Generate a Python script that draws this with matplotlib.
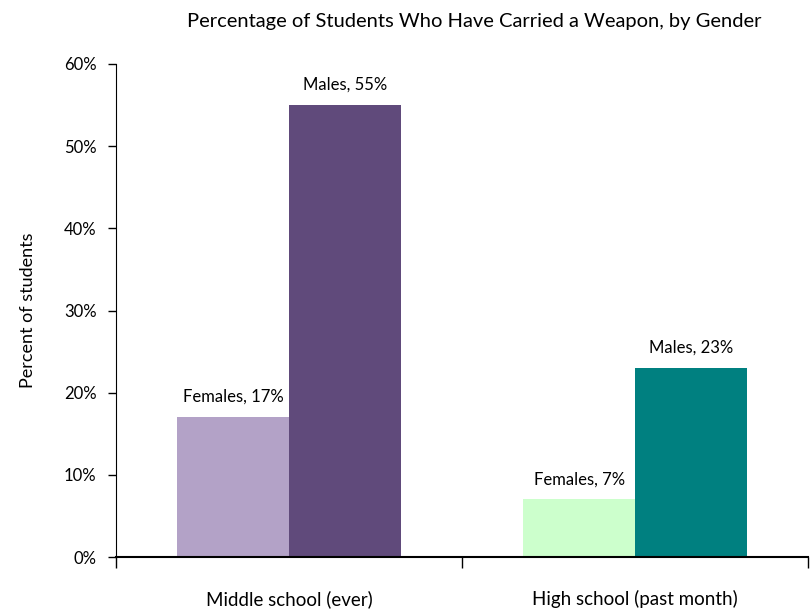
import matplotlib.pyplot as plt
import numpy as np

categories = ["Middle school (ever)", "High school (past month)"]
females = [17, 7]
males = [55, 23]
female_colors = ["#B3A2C7", "#CCFFCC"]
male_colors = ["#604A7B", "#008080"]

plt.rcParams['font.family'] = ['Lato', 'DejaVu Sans']

fig = plt.figure(figsize=(8.1, 6.13), dpi=100)
ax = fig.add_axes([116 / 810, 1 - 557 / 613, 692 / 810, 493 / 613])

x = np.arange(len(categories))
w = 0.323
b1 = ax.bar(x - w / 2, females, width=w, color=female_colors)
b2 = ax.bar(x + w / 2, males, width=w, color=male_colors)

for rect, v in zip(b1, females):
    ax.text(rect.get_x() + rect.get_width() / 2, v + 1.5, f"Females, {v}%",
            ha='center', va='bottom', fontsize=12)
for rect, v in zip(b2, males):
    ax.text(rect.get_x() + rect.get_width() / 2, v + 1.5, f"Males, {v}%",
            ha='center', va='bottom', fontsize=12)

ax.set_xlim(-0.5, 1.5)
ax.set_ylim(0, 60)
ax.set_yticks(range(0, 61, 10))
ax.set_yticklabels([f"{t}%" for t in range(0, 61, 10)], fontsize=12)
ax.set_xticks(x)
ax.set_xticklabels(categories, fontsize=13.5)
ax.tick_params(axis='x', which='major', length=0, pad=24)
ax.set_xticks([-0.5, 0.5, 1.5], minor=True)
ax.tick_params(axis='x', which='minor', length=8, width=1, direction='out')
ax.tick_params(axis='y', length=6, width=1, direction='out', pad=8)

for s in ['top', 'right']:
    ax.spines[s].set_visible(False)
ax.spines['bottom'].set_linewidth(1.5)

ax.set_ylabel("Percent of students", fontsize=13, labelpad=20)
fig.text(0.585, 0.965, "Percentage of Students Who Have Carried a Weapon, by Gender",
         ha='center', va='center', fontsize=14.5)

fig.savefig("out.png", dpi=100)
